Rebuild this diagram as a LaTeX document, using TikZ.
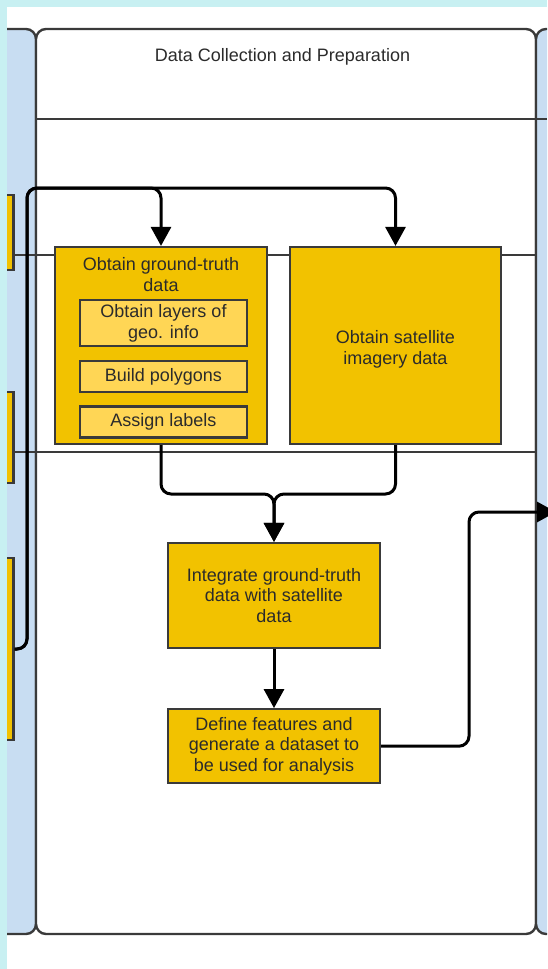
\documentclass[tikz,border=0pt]{standalone}
\usepackage{fontspec}
\setmainfont{Liberation Sans}
\usepackage{xcolor}
\usepackage{tikz}
\usetikzlibrary{arrows.meta, positioning}

\definecolor{pagecyan}{HTML}{C8F0F2}
\definecolor{laneblue}{HTML}{C8DDF2}
\definecolor{taskyellow}{HTML}{F2C200}
\definecolor{subyellow}{HTML}{FFD655}
\definecolor{linegray}{HTML}{3A3A3A}
\definecolor{txtgray}{HTML}{2B2B2B}
\newcommand{\lblfont}{\fontsize{18}{20.7}\selectfont}

\begin{document}
\begin{tikzpicture}[
		x=1pt, y=-1pt,
		every node/.style={font=\lblfont, text=txtgray, align=center},
		lane/.style={draw=linegray, line width=2.4pt, rounded corners=10pt},
		rowline/.style={draw=linegray, line width=2.4pt},
		task/.style={draw=linegray, line width=2.2pt, fill=taskyellow, minimum width=212pt, inner sep=0pt},
		subtask/.style={draw=linegray, line width=2.2pt, fill=subyellow, minimum width=167pt, inner sep=0pt},
		flow/.style={-{Triangle[length=19pt,width=20pt]}, draw=black, line width=3pt, rounded corners=10pt}
		]
		\useasboundingbox (0,0) rectangle (547,969);
		
		% Page background
		\fill[pagecyan] (0,0) rectangle (547,969);
		\fill[white] (7,7) rectangle (547,969);
		
		% Lanes, cut at the page edge
		\begin{scope}
			\clip (7,7) rectangle (547,969);
			\draw[lane, fill=laneblue] (-40,29) rectangle (36,934);
			\draw[lane, fill=white] (36,29) rectangle (536,934);
			\draw[lane, fill=laneblue] (536,29) rectangle (620,934);
			\draw[rowline] (36,119) -- (547,119);
			\draw[rowline] (7,255) -- (536,255);
			\draw[rowline] (7,452) -- (536,452);
			
			% Tasks of the previous lane
			\node[task, minimum width=50pt, minimum height=75pt] (prev1) at (-11.5,232.5) {};
			\node[task, minimum width=50pt, minimum height=91pt] (prev2) at (-11.5,437.5) {};
			\node[task, minimum width=50pt, minimum height=182pt] (srcbox) at (-11.5,649) {};
		\end{scope}
		
		\node (title) at (282.5,57) {Data Collection and Preparation};
		
		% Ground-truth block
		\node[task, minimum height=197pt] (truth) at (161,345.5) {};
		\node (truthlbl) at (truth.north) [below=8pt] {Obtain ground-truth\\data};
		\node[subtask, minimum height=46pt] (geo) at (163.5,323) {Obtain layers of\\geo. info};
		\node[subtask, minimum height=31pt, below=13pt of geo] (poly) {Build polygons};
		\node[subtask, minimum height=31pt, below=12pt of poly] (labels) {Assign labels};
		
		% Satellite block
		\node[task, minimum width=211pt, minimum height=197pt] (sat) at (395.5,345.5) {};
		\node (satlbl) at ([yshift=-4pt]sat.center) {Obtain satellite\\imagery data};
		
		% Integration and features
		\node[task, minimum height=105pt] (integ) at (274,595.5) {Integrate ground-truth\\data with satellite\\data};
		\node[task, minimum height=74pt, below=59pt of integ] (feat) {Define features and\\generate a dataset to\\be used for analysis};
		
		% Flows
		\coordinate (up) at (27,188);
		\draw[flow] (srcbox.east) -| (up) -| (truth.north);
		\draw[flow] (srcbox.east) -| (up) -| (sat.north);
		
		\coordinate (join) at (274,494);
		\draw[flow] (truth.south) |- (join) -- (integ.north);
		\draw[flow] (sat.south) |- (join) -- (integ.north);
		\draw[flow] (integ) -- (feat);
		
		\coordinate (bend) at (469,512);
		\coordinate (exit) at (556,512);
		\draw[flow] (feat.east) -| (bend) -- (exit);
		
	\end{tikzpicture}
\end{document}
